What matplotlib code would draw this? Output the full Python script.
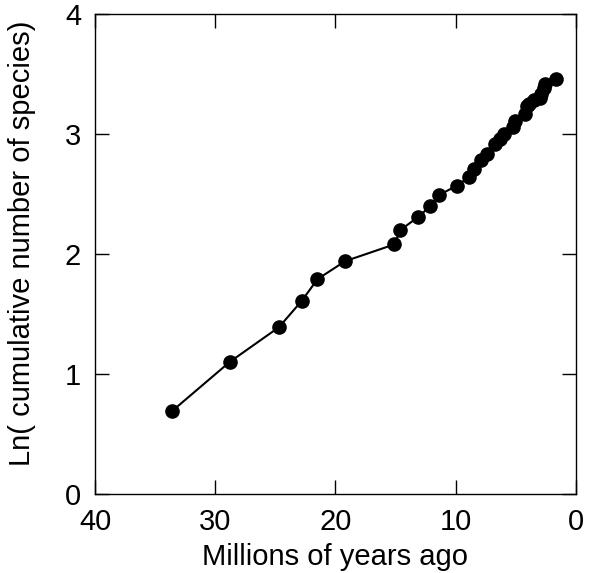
import matplotlib
matplotlib.use('Agg')
import matplotlib.pyplot as plt

# time before present (Myr) and ln(cumulative species count)
years_ago = [33.6, 28.8, 24.7, 22.8, 21.5, 19.2, 15.1, 14.6, 13.1, 12.1,
             11.4, 9.9, 8.9, 8.5, 7.9, 7.4, 6.7, 6.3, 6.0, 5.2,
             5.1, 4.2, 4.1, 3.9, 3.5, 3.0, 2.9, 2.7, 2.6, 1.7]
ln_species = [0.69, 1.10, 1.39, 1.61, 1.79, 1.94, 2.08, 2.20, 2.31, 2.40,
              2.49, 2.57, 2.64, 2.71, 2.78, 2.83, 2.92, 2.96, 3.00, 3.06,
              3.11, 3.17, 3.23, 3.25, 3.28, 3.30, 3.33, 3.38, 3.42, 3.46]

x_ticks = [40, 30, 20, 10, 0]
y_ticks = [0, 1, 2, 3, 4]

plt.rcParams['font.family'] = ['Liberation Sans', 'DejaVu Sans']

fig = plt.figure(figsize=(5.96, 5.73), dpi=100)
ax = fig.add_axes([0.1594, 0.1379, 0.8070, 0.8377])

ax.plot(years_ago, ln_species, color='black', linewidth=1.5,
        marker='o', markersize=9.5, markerfacecolor='black',
        markeredgecolor='black')

ax.set_xlim(40, 0)
ax.set_ylim(0, 4)
ax.set_xticks(x_ticks)
ax.set_yticks(y_ticks)
ax.tick_params(direction='in', length=10, width=1.0, labelsize=21,
               top=True, right=True)
ax.tick_params(axis='x', pad=10)
ax.tick_params(axis='y', pad=10)
for s in ax.spines.values():
    s.set_linewidth(1.0)

ax.set_xlabel('Millions of years ago', fontsize=21, labelpad=5)
ax.set_ylabel('Ln( cumulative number of species)', fontsize=21)
ax.yaxis.set_label_coords(-0.122, 0.523)

fig.savefig('out.png', dpi=100)
plt.close(fig)
